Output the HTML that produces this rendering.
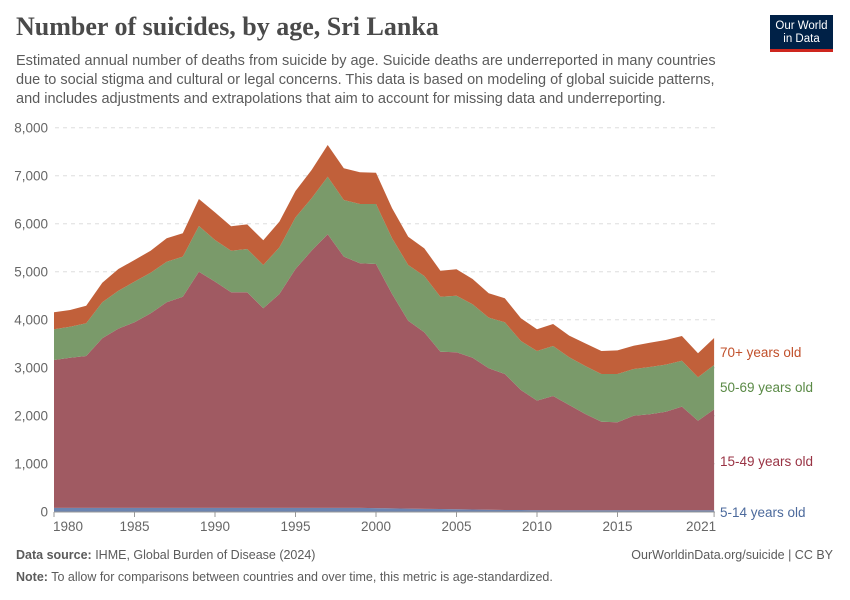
<!DOCTYPE html>
<html><head><meta charset="utf-8"><style>
body{margin:0;background:#fff;font-family:"Liberation Sans",sans-serif;}
#wrap{position:relative;width:850px;height:600px;overflow:hidden;}
.title{position:absolute;left:16px;top:12px;font-family:"Liberation Serif",serif;font-size:26px;font-weight:bold;color:#4a4a4a;}
.sub{position:absolute;left:16px;top:52px;width:712px;font-size:14.5px;line-height:19px;color:#5b5b5b;}
.logo{position:absolute;left:770px;top:15px;width:63px;height:37px;background:#002147;color:#fff;font-size:11.5px;line-height:13px;text-align:center;box-sizing:border-box;padding-top:5px;border-bottom:3px solid #ce261e;}
.foot{position:absolute;font-size:12.5px;color:#5b5b5b;}
</style></head><body>
<div id="wrap">
<div class="title">Number of suicides, by age, Sri Lanka</div>
<div class="sub">Estimated annual number of deaths from suicide by age. Suicide deaths are underreported in many countries due to social stigma and cultural or legal concerns. This data is based on modeling of global suicide patterns, and includes adjustments and extrapolations that aim to account for missing data and underreporting.</div>
<div class="logo">Our World<br>in Data</div>
<svg id="chart" width="850" height="600" style="position:absolute;left:0;top:0"></svg>
<div class="foot" style="left:16px;top:548px"><b>Data source:</b> IHME, Global Burden of Disease (2024)</div>
<div class="foot" style="right:17px;top:548px">OurWorldinData.org/suicide | CC BY</div>
<div class="foot" style="left:16px;top:570px"><b>Note:</b> To allow for comparisons between countries and over time, this metric is age-standardized.</div>
</div>
<script>
const years=[];for(let y=1980;y<=2021;y++)years.push(y);
const age5to14=[80,80,80,80,80,80,80,80,80,80,80,80,80,80,80,80,80,80,80,80,75,70,65,60,55,50,45,40,35,35,30,30,30,30,30,30,30,30,30,30,30,30];
const age15to49=[3080,3128,3164,3533,3733,3866,4053,4283,4399,4920,4712,4491,4491,4158,4455,4976,5358,5699,5233,5095,5085,4465,3914,3678,3278,3271,3163,2948,2834,2500,2283,2380,2193,2005,1845,1833,1970,1999,2053,2158,1866,2103];
const age50to69=[640,646,681,750,791,846,846,845,834,952,868,866,902,902,973,1077,1091,1200,1181,1235,1250,1161,1161,1172,1146,1179,1113,1054,1077,1021,1035,1042,994,1000,994,1006,973,986,980,958,904,923];
const age70plus=[354,348,365,408,452,451,458,488,487,563,577,509,514,514,534,548,590,661,660,661,652,625,589,577,542,550,527,508,500,473,452,458,450,473,479,493,485,506,514,514,500,563];
const yTicks=[0,1000,2000,3000,4000,5000,6000,7000,8000];
const xTicks=[1980,1985,1990,1995,2000,2005,2010,2015,2021];
const NS='http://www.w3.org/2000/svg';
const svg=document.getElementById('chart');
const x=v=>54+(v-1980)*16.1;
const y=v=>511.7-v*0.048;
function mk(t,a){const e=document.createElementNS(NS,t);for(const k in a)e.setAttribute(k,a[k]);svg.appendChild(e);return e;}
yTicks.forEach(t=>{
  if(t>0){const g=mk('line',{x1:55,x2:715,y1:y(t),y2:y(t),stroke:'#ddd','stroke-dasharray':'4,4'});
  
  }
  const l=mk('text',{x:48,y:y(t)+5,'text-anchor':'end','font-size':13.5,fill:'#666','font-family':'Liberation Sans'});
  l.textContent=t.toLocaleString('en-US');
  
  
});
const series=[
 {d:age5to14,c:'#6b84b0',n:'area-5-14'},
 {d:age15to49,c:'#a05a62',n:'area-15-49'},
 {d:age50to69,c:'#7a9a6a',n:'area-50-69'},
 {d:age70plus,c:'#c1603a',n:'area-70-plus'}];
let base=years.map(()=>0);
series.forEach(s=>{
  const top=base.map((b,i)=>b+s.d[i]);
  let p=years.map((yr,i)=>x(yr)+','+y(top[i])).join(' ');
  p+=' '+years.slice().reverse().map((yr,j)=>x(yr)+','+y(base[years.length-1-j])).join(' ');
  const e=mk('polygon',{points:p,fill:s.c});
  
  
  base=top;
});
const ax=mk('line',{x1:54,x2:715,y1:512,y2:512,stroke:'#999'});


xTicks.forEach(t=>{
  const tk=mk('line',{x1:x(t),x2:x(t),y1:512,y2:517,stroke:'#999'});
  
  
  const l=mk('text',{x:x(t),y:531,'text-anchor':t===2021?'end':'middle','font-size':13.5,fill:'#666','font-family':'Liberation Sans'});
  if(t===2021)l.setAttribute('x',x(t)+2);
  if(t===1980)l.setAttribute('x',x(t)+14);
  l.textContent=t;
  
  
});
const labels=[['70+ years old',357,'#c1502b','legend-70-plus'],['50-69 years old',392,'#5a8a46','legend-50-69'],['15-49 years old',466,'#993344','legend-15-49'],['5-14 years old',517,'#4c6a9c','legend-5-14']];
labels.forEach(l=>{
  const t=mk('text',{x:720,y:l[1],'font-size':13.5,fill:l[2],'font-family':'Liberation Sans'});
  t.textContent=l[0];
  
  
});
</script>
</body></html>
